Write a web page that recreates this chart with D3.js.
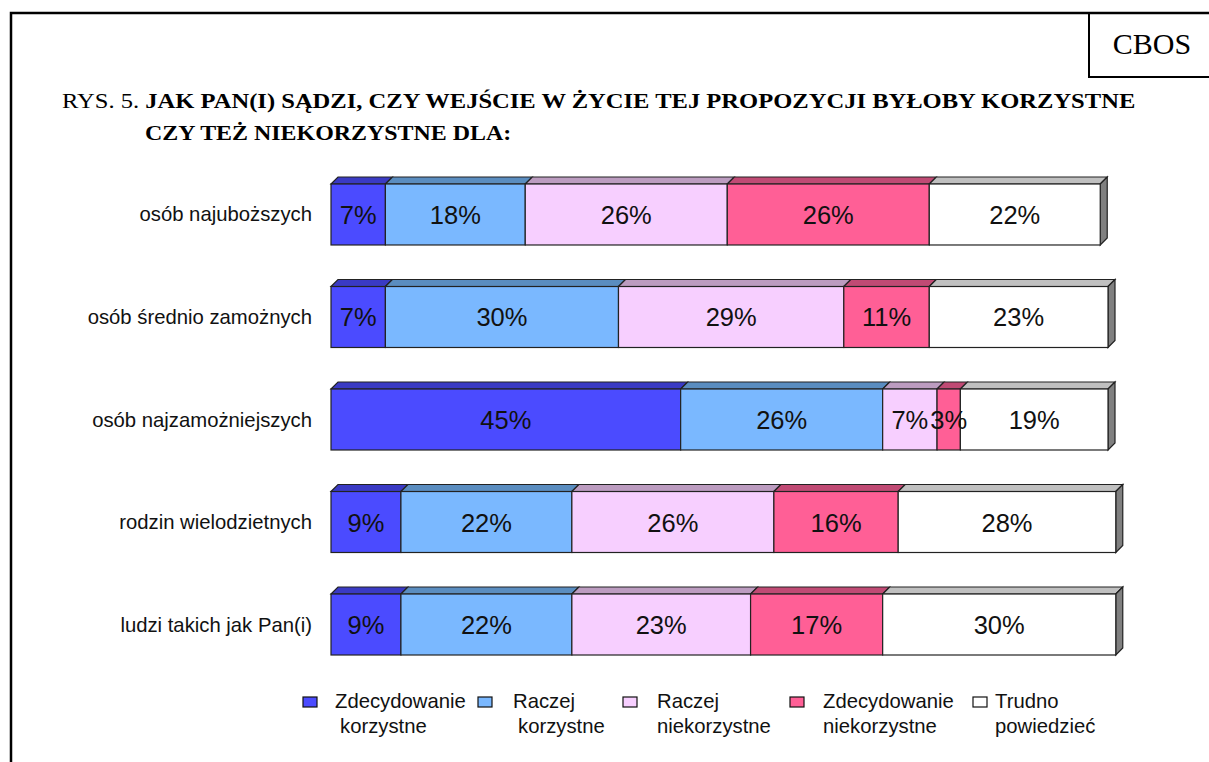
<!DOCTYPE html>
<html>
<head>
<meta charset="utf-8">
<script src="https://cdn.jsdelivr.net/npm/d3@7"></script>
<style>
    body { margin: 0; background: #fff; }
    svg { display: block; }
</style>
</head>
<body>
<div id="chart"></div>
<script>
// Chart data
var categories = ["osób najuboższych", "osób średnio zamożnych", "osób najzamożniejszych",
    "rodzin wielodzietnych", "ludzi takich jak Pan(i)"];
var seriesNames = ["Zdecydowanie korzystne", "Raczej korzystne", "Raczej niekorzystne",
    "Zdecydowanie niekorzystne", "Trudno powiedzieć"];
var zdecKorzystne = [7, 7, 45, 9, 9];
var raczejKorzystne = [18, 30, 26, 22, 22];
var raczejNiekorzystne = [26, 29, 7, 26, 23];
var zdecNiekorzystne = [26, 11, 3, 16, 17];
var trudno = [22, 23, 19, 28, 30];

// Legend labels split in two lines
var legendLines = [["Zdecydowanie", "korzystne"], ["Raczej", "korzystne"], ["Raczej", "niekorzystne"],
    ["Zdecydowanie", "niekorzystne"], ["Trudno", "powiedzieć"]];

var frontColors = ["#4b4bff", "#7ab8ff", "#f7cfff", "#ff5f96", "#ffffff"];
var topColors = ["#3a3ac4", "#5a8dc0", "#bc9cc0", "#c04a74", "#c0c0c0"];

// Build rows for the stack
var allSeries = [zdecKorzystne, raczejKorzystne, raczejNiekorzystne, zdecNiekorzystne, trudno];
var rows = categories.map(function (c, i) {
    var r = {cat: c};
    seriesNames.forEach(function (s, j) { r[s] = allSeries[j][i]; });
    return r;
});

var svgWidth = 1209, svgHeight = 762;
var svg = d3.select("#chart").append("svg")
    .attr("width", svgWidth)
    .attr("height", svgHeight);

var serif = "Liberation Serif, Times New Roman, serif";
var sans = "Liberation Sans, Arial, sans-serif";

// Page frame
svg.append("path")
    .attr("d", "M11,762 L11,13 L1209,13")
    .attr("fill", "none").attr("stroke", "#000").attr("stroke-width", 2.5);
svg.append("path")
    .attr("d", "M1089,13 L1089,77 L1209,77")
    .attr("fill", "none").attr("stroke", "#000").attr("stroke-width", 2);
svg.append("text")
    .attr("x", 1152).attr("y", 54)
    .attr("text-anchor", "middle")
    .attr("font-family", serif)
    .attr("font-size", 30)
    .text("CBOS");

// Title (the original is set narrow and wide, so stretch it a bit)
var title = svg.append("text")
    .attr("transform", "translate(62,108) scale(1.17,1)")
    .attr("font-family", serif)
    .attr("font-size", 21);
title.append("tspan").text("RYS. 5. ");
title.append("tspan").attr("font-weight", "bold")
    .text("JAK PAN(I) SĄDZI, CZY WEJŚCIE W ŻYCIE TEJ PROPOZYCJI BYŁOBY KORZYSTNE");
svg.append("text")
    .attr("transform", "translate(145,140) scale(1.14,1)")
    .attr("font-family", serif)
    .attr("font-size", 21).attr("font-weight", "bold")
    .text("CZY TEŻ NIEKORZYSTNE DLA:");

// Scales
var x = d3.scaleLinear().domain([0, 100]).range([331, 1108]);
var y = d3.scaleBand().domain(categories).range([184, 655]).paddingInner(0.405).paddingOuter(0);
var depth = 7;

var stacked = d3.stack().keys(seriesNames)(rows);

var strokeCol = "#222";

// Top faces
stacked.forEach(function (layer, j) {
    svg.append("g").selectAll("path")
        .data(layer)
        .join("path")
        .attr("d", function (d) {
            var x0 = x(d[0]), x1 = x(d[1]), yt = y(d.data.cat);
            return "M" + x0 + "," + yt + " L" + (x0 + depth) + "," + (yt - depth) +
                " L" + (x1 + depth) + "," + (yt - depth) + " L" + x1 + "," + yt + "Z";
        })
        .attr("fill", topColors[j])
        .attr("stroke", strokeCol).attr("stroke-width", 1.2);
});

// Right side of each bar
var last = stacked[stacked.length - 1];
svg.append("g").selectAll("path")
    .data(last)
    .join("path")
    .attr("d", function (d) {
        var x1 = x(d[1]), yt = y(d.data.cat), h = y.bandwidth();
        return "M" + x1 + "," + yt + " L" + (x1 + depth) + "," + (yt - depth) +
            " L" + (x1 + depth) + "," + (yt + h - depth) + " L" + x1 + "," + (yt + h) + "Z";
    })
    .attr("fill", "#808080")
    .attr("stroke", strokeCol).attr("stroke-width", 1.2);

// Front faces
stacked.forEach(function (layer, j) {
    svg.append("g").selectAll("rect")
        .data(layer)
        .join("rect")
        .attr("x", d => x(d[0]))
        .attr("y", d => y(d.data.cat))
        .attr("width", d => x(d[1]) - x(d[0]))
        .attr("height", y.bandwidth())
        .attr("fill", frontColors[j])
        .attr("stroke", strokeCol).attr("stroke-width", 1.2);
});

// Value labels
stacked.forEach(function (layer, j) {
    svg.append("g").selectAll("text")
        .data(layer)
        .join("text")
        .attr("x", d => (x(d[0]) + x(d[1])) / 2)
        .attr("y", d => y(d.data.cat) + y.bandwidth() / 2 + 9.5)
        .attr("text-anchor", "middle")
        .attr("font-family", sans)
        .attr("font-size", 25.5)
        .attr("fill", "#111")
        .text(d => d.data[seriesNames[j]] + "%");
});

// Category labels
svg.append("g").selectAll("text")
    .data(categories)
    .join("text")
    .attr("x", 312)
    .attr("y", d => y(d) + y.bandwidth() / 2 + 7)
    .attr("text-anchor", "end")
    .attr("font-family", sans)
    .attr("font-size", 20.3)
    .attr("fill", "#111")
    .text(d => d);

// Legend
var legendX = [303, 478, 623, 790, 973];
var legendTextX = [335, 513, 657, 823, 995];
var legend = svg.append("g").selectAll("g")
    .data(seriesNames)
    .join("g");
legend.append("rect")
    .attr("x", (d, i) => legendX[i])
    .attr("y", 697)
    .attr("width", 14).attr("height", 10)
    .attr("fill", (d, i) => frontColors[i])
    .attr("stroke", "#111").attr("stroke-width", 1.2);
legend.append("text")
    .attr("x", (d, i) => legendTextX[i])
    .attr("y", 708)
    .attr("font-family", sans)
    .attr("font-size", 20.3)
    .attr("fill", "#111")
    .text((d, i) => legendLines[i][0]);
legend.append("text")
    .attr("x", (d, i) => legendTextX[i] + (i < 2 ? 5 : 0))
    .attr("y", 733)
    .attr("font-family", sans)
    .attr("font-size", 20.3)
    .attr("fill", "#111")
    .text((d, i) => legendLines[i][1]);
</script>
</body>
</html>
